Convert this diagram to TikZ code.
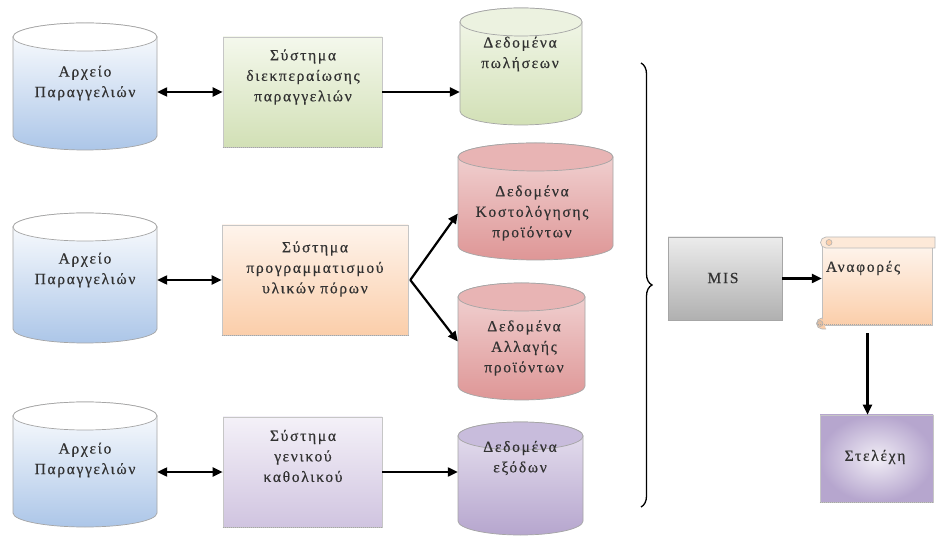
\documentclass[tikz,border=0pt]{standalone}
\usepackage{fontspec}
\setmainfont{Liberation Serif}[LetterSpace=11,FakeBold=0.5]
\usetikzlibrary{arrows.meta,decorations.pathreplacing,calc}
\definecolor{cylline}{RGB}{165,165,165}
\definecolor{txtcol}{RGB}{50,50,50}
\definecolor{blueB}{RGB}{172,198,232}
\definecolor{greenT}{RGB}{244,248,236}
\definecolor{greenB}{RGB}{210,224,182}
\definecolor{greenF}{RGB}{236,242,224}
\definecolor{redT}{RGB}{242,214,214}
\definecolor{redB}{RGB}{222,150,150}
\definecolor{redF}{RGB}{232,180,180}
\definecolor{purT}{RGB}{232,226,240}
\definecolor{purB}{RGB}{182,166,206}
\definecolor{purF}{RGB}{200,188,220}
\definecolor{orT}{RGB}{254,244,236}
\definecolor{orB}{RGB}{251,206,170}
\definecolor{boxpT}{RGB}{244,241,248}
\definecolor{boxpB}{RGB}{208,196,224}
\newcommand\dbcyl[8]{%
  \pgfmathsetmacro\rx{(#3-#2)/2}%
  \pgfmathsetmacro\cx{(#2+#3)/2}%
  \path[draw=cylline, line width=0.7pt, top color=#6, bottom color=#7]
    (#2,#4-14) -- (#2,#5+14)
    arc[start angle=180,end angle=360,x radius=\rx,y radius=14]
    -- (#3,#4-14)
    arc[start angle=0,end angle=180,x radius=\rx,y radius=14] -- cycle;
  \draw[cylline, line width=0.7pt, fill=#8] (\cx,#4-14) ellipse[x radius=\rx, y radius=14];
  \node[inner sep=0, minimum width={(#3-#2)*1pt}, minimum height={(#4-#5)*1pt}] (#1) at (\cx,{(#4+#5)/2}) {};
}
\tikzset{
  txt/.style={align=center, inner sep=0, text=txtcol, font=\fontsize{15.5}{20.5}\selectfont},
  sysbox/.style={draw=gray!45, line width=0.6pt, inner sep=0},
  arr/.style={line width=2.2pt, -{Triangle[length=10pt,width=9pt]}},
  darr/.style={line width=2.2pt, {Triangle[length=10pt,width=9pt]}-{Triangle[length=10pt,width=9pt]}},
  shadowline/.style={gray!70, densely dotted, line width=1pt}
}
\begin{document}
\begin{tikzpicture}[x=1pt,y=1pt]
\useasboundingbox (0,0) rectangle (936,538);
\fill[white] (0,0) rectangle (936,538);

% cylinders: name, L, R, T, B, top col, bottom col, face col
\dbcyl{c1}{13}{157}{515}{388}{white}{blueB}{white}
\dbcyl{c2}{13}{157}{325}{195}{white}{blueB}{white}
\dbcyl{c3}{13}{157}{136}{11}{white}{blueB}{white}
\dbcyl{d1}{460}{582}{530}{413}{greenT}{greenB}{greenF}
\dbcyl{d2}{458}{613}{395}{278}{redT}{redB}{redF}
\dbcyl{d3}{458}{585}{255}{138}{redT}{redB}{redF}
\dbcyl{d4}{458}{583}{116}{3}{purT}{purB}{purF}

\node[txt] (c1t) at (85,455) {Αρχείο\\Παραγγελιών};
\node[txt] (c2t) at (85,268) {Αρχείο\\Παραγγελιών};
\node[txt] (c3t) at (85,78) {Αρχείο\\Παραγγελιών};
\node[txt] (d1t) at (520,484) {Δεδομένα\\πωλήσεων};
\node[txt] (d2t) at (532,325) {Δεδομένα\\Κοστολόγησης\\προϊόντων};
\node[txt] (d3t) at (524,190) {Δεδομένα\\Αλλαγής\\προϊόντων};
\node[txt] (d4t) at (520,80) {Δεδομένα\\εξόδων};

% system boxes
\node[sysbox, top color=greenT, bottom color=greenB, minimum width=159pt, minimum height=110pt] (b1) at (302.5,446) {};
\node[sysbox, top color=orT, bottom color=orB, minimum width=186pt, minimum height=110pt] (b2) at (315,258) {};
\node[sysbox, top color=boxpT, bottom color=boxpB, minimum width=159pt, minimum height=110pt] (b3) at (302.5,66) {};
\foreach \b in {b1,b2,b3} \draw[shadowline] (\b.south west) -- (\b.south east);
\node[txt] (b1t) at (303,461) {Σύστημα\\διεκπεραίωσης\\παραγγελιών};
\node[txt] (b2t) at (315,269) {Σύστημα\\προγραμματισμού\\υλικών πόρων};
\node[txt] (b3t) at (303,82) {Σύστημα\\γενικού\\καθολικού};

% MIS
\node[draw=gray!70, line width=0.6pt, top color=gray!15, bottom color=gray!62, minimum width=114pt, minimum height=83pt, inner sep=0] (mis) at (725,259.5) {};
\draw[shadowline] (mis.south west) -- (mis.south east);
\node[txt] (mist) at (723,260) {MIS};

% scroll (Αναφορές)
\path[draw=gray!50, line width=0.6pt, top color=orT, bottom color=orB] (822,292) rectangle (932,213);
\path[draw=gray!55, line width=0.7pt, fill=orT!70!orB] (826,301) -- (935,301) -- (935,290) -- (826,290) arc[start angle=270,end angle=90,radius=5.5] ;
\draw[gray!60, line width=0.6pt, fill=orB] (829,295.5) circle[radius=3];
\draw[gray!60, line width=0.6pt, fill=orB] (822,220) arc[start angle=90,end angle=270,radius=5.5] -- (826,209) ;
\draw[gray!60, line width=0.6pt, fill=orB!80!gray] (820,214.5) circle[radius=3];
\draw[shadowline] (818,213) -- (932,213);
\node[inner sep=0, minimum width=113pt, minimum height=87pt] (scroll) at (878.5,256.5) {};
\node[txt] (scrollt) at (863,270) {Αναφορές};

% Στελέχη
\node[draw=gray!45, line width=0.6pt, shading=radial, inner color=purT!60!white, outer color=purB, minimum width=113pt, minimum height=87pt, inner sep=0] (stel) at (876.5,79.5) {};
\draw[shadowline] (stel.south west) -- (stel.south east);
\node[txt] (stelt) at (875,81) {Στελέχη};

% connectors
\draw[darr] (c1.east |- b1.west) -- (b1.west);
\draw[darr] (c2.east |- b2.west) -- (b2.west);
\draw[darr] (c3.east |- b3.west) -- (b3.west);
\draw[arr] (b1.east) -- (b1.east -| d1.west);
\draw[arr] (b3.east) -- (b3.east -| d4.west);
\draw[arr] ([xshift=2pt]b2.east) -- ([yshift=-12pt]d2.west);
\draw[arr] ([xshift=2pt]b2.east) -- (d3.west);
\draw[arr] (mis.east) -- (mis.east -| scroll.west);
\draw[arr] ([xshift=-11pt,yshift=-8pt]scroll.south) -- ([xshift=-9pt]stel.north);

% brace
\draw[line width=1.3pt, decorate, decoration={brace, amplitude=11pt}] (641,475) -- (641,31);
\end{tikzpicture}
\end{document}
